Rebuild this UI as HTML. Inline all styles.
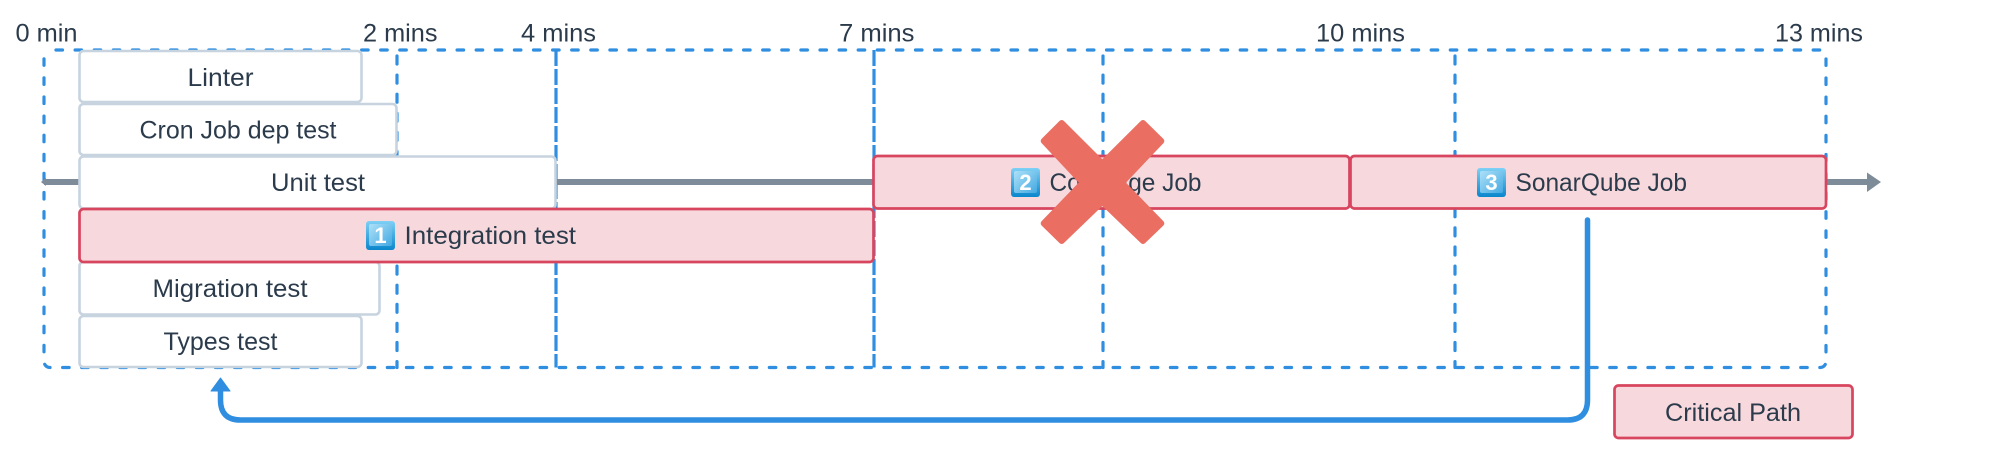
<!DOCTYPE html>
<html lang="en">
<head>
<meta charset="utf-8">
<title>Pipeline timeline</title>
<style>
html,body{margin:0;padding:0;background:#fff;width:2000px;height:453px;overflow:hidden}
svg{display:block}
text{font-family:"Liberation Sans",sans-serif;font-size:25px;fill:#2b3b4b}
.d{fill:none;stroke:#2f8ee0;stroke-width:3.2;stroke-dasharray:6.5 12.6;stroke-dashoffset:-6;stroke-linecap:round}
.v{fill:none;stroke:#2f8ee0;stroke-width:3.2;stroke-dasharray:8 11.1;stroke-dashoffset:-6;stroke-linecap:round}
.dd{fill:none;stroke:#2f8ee0;stroke-width:3.2;stroke-dasharray:16 3}
.w{fill:#fff;stroke:#c7d3df;stroke-width:2.6}
.r{fill:#f7d9dd;stroke:#d8455f;stroke-width:2.7}
.k{font-size:22px;font-weight:bold;fill:#fff}
</style>
</head>
<body>
<svg width="2000" height="453" viewBox="0 0 2000 453" xmlns="http://www.w3.org/2000/svg">
<defs>
<linearGradient id="kg" x1="0" y1="0" x2="0" y2="1">
<stop offset="0" stop-color="#7fd0f5"/><stop offset="1" stop-color="#0a86cc"/>
</linearGradient>
<linearGradient id="ki" x1="0" y1="0" x2="1" y2="1">
<stop offset="0" stop-color="#aee0f8"/><stop offset="1" stop-color="#43a9e2"/>
</linearGradient>
</defs>

<!-- dashed grid -->
<rect class="d" x="44" y="50" width="1782" height="317.5" rx="6"/>
<path class="v" d="M397 50V367.5"/>
<path class="dd" d="M556 50V367.5"/>
<path class="dd" d="M874 50V367.5"/>
<path class="v" d="M1103 50V367.5"/>
<path class="v" d="M1455 50V367.5"/>

<!-- timeline -->
<path d="M44 182H1868" stroke="#7e8c99" stroke-width="6" fill="none"/>
<path d="M1867 172.5L1881 182L1867 192Z" fill="#7e8c99"/>
<path d="M41 182L46 178V186Z" fill="#7e8c99"/>

<!-- plain jobs -->
<rect class="w" x="79.5" y="51" width="282" height="51" rx="4"/>
<rect class="w" x="79.5" y="104" width="317" height="51" rx="4"/>
<rect class="w" x="79.5" y="156.5" width="476" height="52" rx="4"/>
<rect class="w" x="79.5" y="262" width="300" height="52.5" rx="4"/>
<rect class="w" x="79.5" y="316" width="282" height="51" rx="4"/>

<!-- critical jobs -->
<rect class="r" x="79.5" y="209" width="794" height="53" rx="4"/>
<rect class="r" x="873.5" y="156" width="476" height="52.5" rx="4"/>
<rect class="r" x="1350.5" y="156" width="475.5" height="52.5" rx="4"/>
<rect class="r" x="1614.5" y="385.5" width="238" height="52.5" rx="4"/>

<!-- time labels -->
<text x="15.5" y="41.5" textLength="62" lengthAdjust="spacingAndGlyphs">0 min</text>
<text x="363" y="41.5" textLength="74.5" lengthAdjust="spacingAndGlyphs">2 mins</text>
<text x="521" y="41.5" textLength="75" lengthAdjust="spacingAndGlyphs">4 mins</text>
<text x="839" y="41.5" textLength="75.5" lengthAdjust="spacingAndGlyphs">7 mins</text>
<text x="1316" y="41.5" textLength="89" lengthAdjust="spacingAndGlyphs">10 mins</text>
<text x="1775" y="41.5" textLength="88" lengthAdjust="spacingAndGlyphs">13 mins</text>

<!-- job labels -->
<text x="187.5" y="86" textLength="66" lengthAdjust="spacingAndGlyphs">Linter</text>
<text x="139.5" y="138.5" textLength="197" lengthAdjust="spacingAndGlyphs">Cron Job dep test</text>
<text x="271" y="191" textLength="94" lengthAdjust="spacingAndGlyphs">Unit test</text>
<text x="404.5" y="244" textLength="171.5" lengthAdjust="spacingAndGlyphs">Integration test</text>
<text x="152.5" y="297" textLength="155" lengthAdjust="spacingAndGlyphs">Migration test</text>
<text x="163.5" y="350" textLength="114" lengthAdjust="spacingAndGlyphs">Types test</text>
<text x="1049.5" y="191" textLength="152" lengthAdjust="spacingAndGlyphs">Coverage Job</text>
<text x="1515.5" y="191" textLength="171.5" lengthAdjust="spacingAndGlyphs">SonarQube Job</text>
<text x="1665" y="421" textLength="136" lengthAdjust="spacingAndGlyphs">Critical Path</text>

<!-- keycaps -->
<rect x="366" y="221" width="29" height="29" rx="3" fill="url(#kg)"/>
<rect x="369" y="224" width="23" height="22" rx="2" fill="url(#ki)"/>
<text class="k" x="380.5" y="243" text-anchor="middle">1</text>
<rect x="1011" y="168" width="29" height="29" rx="3" fill="url(#kg)"/>
<rect x="1014" y="171" width="23" height="22" rx="2" fill="url(#ki)"/>
<text class="k" x="1025.5" y="190" text-anchor="middle">2</text>
<rect x="1477" y="168" width="29" height="29" rx="3" fill="url(#kg)"/>
<rect x="1480" y="171" width="23" height="22" rx="2" fill="url(#ki)"/>
<text class="k" x="1491.5" y="190" text-anchor="middle">3</text>

<!-- critical path connector -->
<path d="M1587.5 220V400Q1587.5 420 1567.5 420H240.5Q220.5 420 220.5 400V388" fill="none" stroke="#2f8ee0" stroke-width="5.5" stroke-linecap="round"/>
<path d="M220.5 378L230 391H211Z" fill="#2f8ee0" stroke="#2f8ee0" stroke-width="1" stroke-linejoin="round"/>

<!-- cross -->
<path d="M1061.7 123L1102.3 163.5L1143 123L1161.3 141L1121.8 182.7L1161.3 223.3L1143 241L1102.3 201.8L1061.7 241L1043.7 223.3L1082.8 182.7L1043.7 141Z" fill="#ea6e61" stroke="#ea6e61" stroke-width="6" stroke-linejoin="round"/>
</svg>
</body>
</html>
